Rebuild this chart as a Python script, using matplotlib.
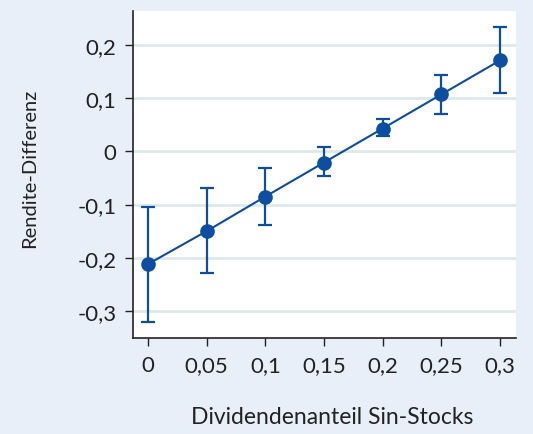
import numpy as np
import matplotlib.pyplot as plt

anteil = [0, 0.05, 0.1, 0.15, 0.2, 0.25, 0.3]
rendite = [-0.212, -0.150, -0.085, -0.021, 0.043, 0.107, 0.171]
ci_oben = [-0.105, -0.068, -0.032, 0.008, 0.060, 0.143, 0.233]
ci_unten = [-0.321, -0.229, -0.139, -0.047, 0.028, 0.071, 0.109]
xticks = [0, 0.05, 0.1, 0.15, 0.2, 0.25, 0.3]
xlabels = ['0', '0,05', '0,1', '0,15', '0,2', '0,25', '0,3']
yticks = [-0.3, -0.2, -0.1, 0, 0.1, 0.2]
ylabels = ['-0,3', '-0,2', '-0,1', '0', '0,1', '0,2']

bg = '#e8eff8'
blau = '#0b4ea2'
plt.rcParams['font.family'] = ['Lato', 'DejaVu Sans']

fig = plt.figure(figsize=(5.33, 4.35), dpi=100, facecolor=bg)
ax = fig.add_axes([133/533, 1 - 339/435, (516-133)/533, (339-12)/435])
ax.set_facecolor('white')

y = np.array(rendite)
err = [y - np.array(ci_unten), np.array(ci_oben) - y]
ax.errorbar(anteil, rendite, yerr=err, color=blau, marker='o', markersize=9.5,
            linewidth=1.5, elinewidth=1.6, capsize=5, capthick=1.6)

ax.set_xlim(-0.0128, 0.3137)
ax.set_ylim(-0.351, 0.264)
ax.set_xticks(xticks)
ax.set_xticklabels(xlabels)
ax.set_yticks(yticks)
ax.set_yticklabels(ylabels)
ax.tick_params(labelsize=16, length=6, width=1, color='#222222', labelcolor='#222222', pad=6)
ax.grid(axis='y', color='#dde9ea', linewidth=2)
ax.set_axisbelow(True)
for s in ['top', 'right']:
    ax.spines[s].set_visible(False)
for s in ['left', 'bottom']:
    ax.spines[s].set_linewidth(1.2)
    ax.spines[s].set_color('#222222')

fig.text(332/533, 1 - 418/435, 'Dividendenanteil Sin-Stocks', ha='center', va='center',
         fontsize=16.5, color='#222222')
fig.text(30/533, 1 - 168/435, 'Rendite-Differenz', ha='center', va='center',
         rotation=90, fontsize=14.5, color='#222222')

fig.savefig('out.png', dpi=100, facecolor=bg)
